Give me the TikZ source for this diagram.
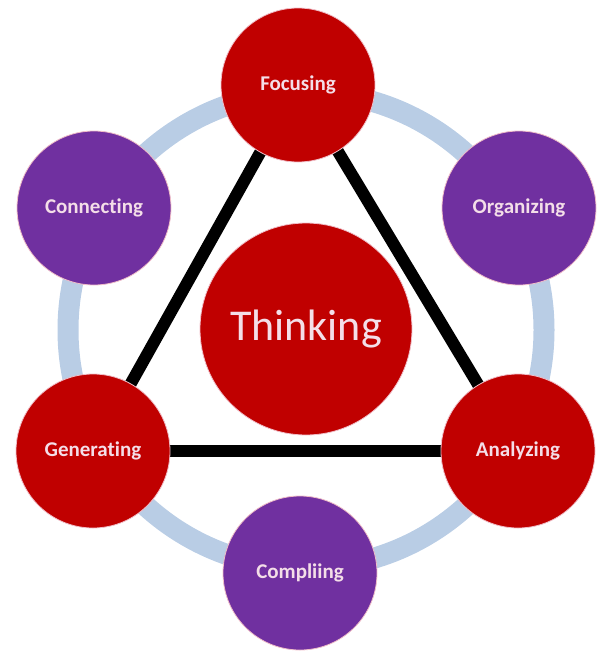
\documentclass[tikz,border=0pt]{standalone}
\usepackage{fontspec}
\setmainfont{Carlito}[Ligatures=NoCommon]
\usetikzlibrary{backgrounds}
\definecolor{dred}{RGB}{192,0,0}
\definecolor{dpurple}{RGB}{112,48,160}
\definecolor{ringblue}{RGB}{185,205,229}
\definecolor{labelpink}{RGB}{244,222,232}
\definecolor{edgepink}{RGB}{240,190,200}
\tikzset{
  bubble/.style={circle, minimum size=154pt, inner sep=0pt, draw=edgepink, line width=0.8pt,
     text=labelpink, font=\bfseries\fontsize{21}{24}\selectfont},
  redbubble/.style={bubble, fill=dred},
  purplebubble/.style={bubble, fill=dpurple},
  corebubble/.style={circle, minimum size=212pt, inner sep=0pt, fill=dred, draw=edgepink, line width=0.8pt,
     text=labelpink, font=\fontsize{44}{50}\selectfont},
  tri/.style={line width=12pt, black},
  ring/.style={line width=21pt, ringblue}
}
\begin{document}
\begin{tikzpicture}[x=1pt,y=-1pt]
\useasboundingbox (0,0) rectangle (597,653);
\node[corebubble] (think) at (306,329) {Thinking};
\node[redbubble] (focus) at (298,85) {Focusing};
\node[purplebubble] (org) at (519,208) {Organizing};
\node[redbubble] (anal) at (518,451) {Analyzing};
\node[purplebubble] (comp) at (300,573) {Compliing};
\node[redbubble] (gen) at (93,451) {Generating};
\node[purplebubble] (conn) at (94,208) {Connecting};
\begin{scope}[on background layer]
  \draw[ring] (306,330) circle[radius=238];
  \draw[tri] (focus.center) -- (gen.center);
  \draw[tri] (focus.center) -- (anal.center);
  \draw[tri] (gen.center) -- (anal.center);
\end{scope}
\end{tikzpicture}
\end{document}
